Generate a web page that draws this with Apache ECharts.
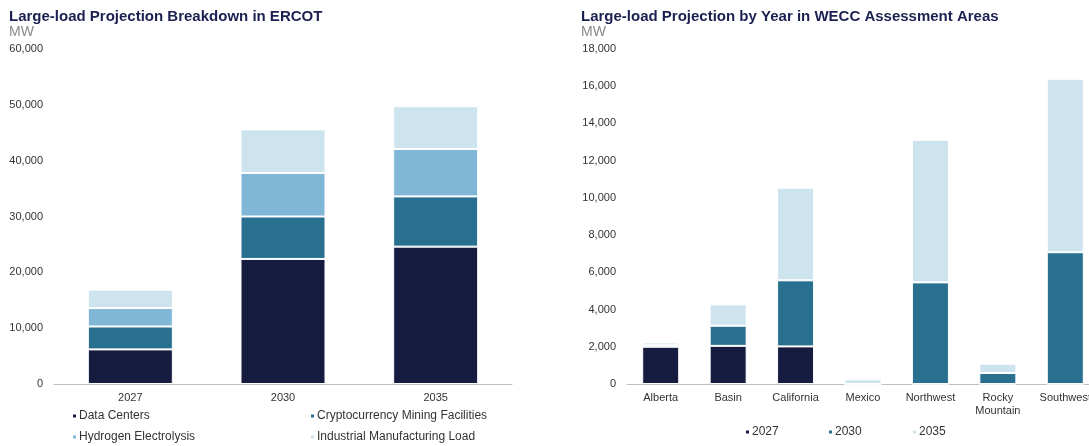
<!DOCTYPE html>
<html><head><meta charset="utf-8">
<script src="https://cdn.jsdelivr.net/npm/echarts@6/dist/echarts.min.js"></script>
<style>html,body{margin:0;padding:0;background:#fff}#c{width:1089px;height:446px}</style>
</head><body><div id="c"></div>
<script>
const ercotYears = ['2027', '2030', '2035'];
const dataCenters = [6200, 22400, 24600];
const cryptoMining = [4100, 7600, 9000];
const hydrogen = [3300, 7800, 8500];
const industrial = [3300, 7800, 7650];

const weccAreas = ['Alberta', 'Basin', 'California', 'Mexico', 'Northwest', 'Rocky\nMountain', 'Southwest'];
const wecc2027 = [2000, 2050, 2020, 0, 0, 0, 0];
const wecc2030 = [80, 1080, 3550, 0, 5460, 590, 7080];
const wecc2035 = [150, 1150, 4980, 250, 7660, 500, 9320];

const leftTicks = {min: 0, max: 60000, interval: 10000};
const rightTicks = {min: 0, max: 18000, interval: 2000};

const C1 = '#161b40', C2 = '#286f90', C3 = '#80b7d7', C4 = '#cde4ef';
const font = 'Liberation Sans, Arial, sans-serif';
const chart = echarts.init(document.getElementById('c'), null, {renderer: 'canvas'});

function yAxis(grid, t) {
  return {gridIndex: grid, type: 'value', min: t.min, max: t.max, interval: t.interval,
    axisLine: {show: false}, axisTick: {show: false}, splitLine: {show: false},
    axisLabel: {color: '#333', fontSize: 11, fontFamily: font, margin: 11,
      formatter: v => v.toLocaleString('en-US')}};
}
function xAxis(grid, data) {
  return {gridIndex: grid, type: 'category', data: data,
    axisLine: {lineStyle: {color: '#bfbfbf', width: 1}}, axisTick: {show: false},
    axisLabel: {color: '#333', fontSize: 11, fontFamily: font, margin: 7, lineHeight: 13, interval: 0}};
}
function bar(name, data, color, xi, width) {
  return {name: name, type: 'bar', stack: 's' + xi, xAxisIndex: xi, yAxisIndex: xi, data: data,
    barWidth: width, itemStyle: {color: color, borderColor: '#fff', borderWidth: 1}};
}
function legendItem(name, left, top) {
  return {data: [name], left: left, top: top, itemWidth: 5, itemHeight: 5, icon: 'rect', itemGap: 4,
    textStyle: {color: '#333', fontSize: 12, fontFamily: font, padding: [0, 0, 0, -3]}, padding: 0};
}

chart.setOption({
  animation: false,
  title: [
    {text: 'Large-load Projection Breakdown in ERCOT', left: 4, top: 4,
      textStyle: {color: '#1b2050', fontSize: 15, fontWeight: 'bold', fontFamily: font}},
    {text: 'MW', left: 4, top: 20, textStyle: {color: '#8a8a8a', fontSize: 14, fontWeight: 'normal', fontFamily: font}},
    {text: 'Large-load Projection by Year in WECC Assessment Areas', left: 576, top: 4,
      textStyle: {color: '#1b2050', fontSize: 15, fontWeight: 'bold', fontFamily: font}},
    {text: 'MW', left: 576, top: 20, textStyle: {color: '#8a8a8a', fontSize: 14, fontWeight: 'normal', fontFamily: font}}
  ],
  grid: [
    {left: 54, width: 458, top: 49, bottom: 62, outerBoundsMode: 'none', containLabel: false},
    {left: 627, width: 472, top: 49, bottom: 62, outerBoundsMode: 'none', containLabel: false}
  ],
  xAxis: [xAxis(0, ercotYears), xAxis(1, weccAreas)],
  yAxis: [yAxis(0, leftTicks), yAxis(1, rightTicks)],
  legend: [
    legendItem('Data Centers', 71, 410),
    legendItem('Cryptocurrency Mining Facilities', 309, 410),
    legendItem('Hydrogen Electrolysis', 71, 431),
    legendItem('Industrial Manufacturing Load', 309, 431),
    legendItem('2027', 744, 426),
    legendItem('2030', 827, 426),
    legendItem('2035', 911, 426)
  ],
  series: [
    bar('Data Centers', dataCenters, C1, 0, 85),
    bar('Cryptocurrency Mining Facilities', cryptoMining, C2, 0, 85),
    bar('Hydrogen Electrolysis', hydrogen, C3, 0, 85),
    bar('Industrial Manufacturing Load', industrial, C4, 0, 85),
    bar('2027', wecc2027, C1, 1, 37),
    bar('2030', wecc2030, C2, 1, 37),
    bar('2035', wecc2035, C4, 1, 37)
  ]
});
</script></body></html>
